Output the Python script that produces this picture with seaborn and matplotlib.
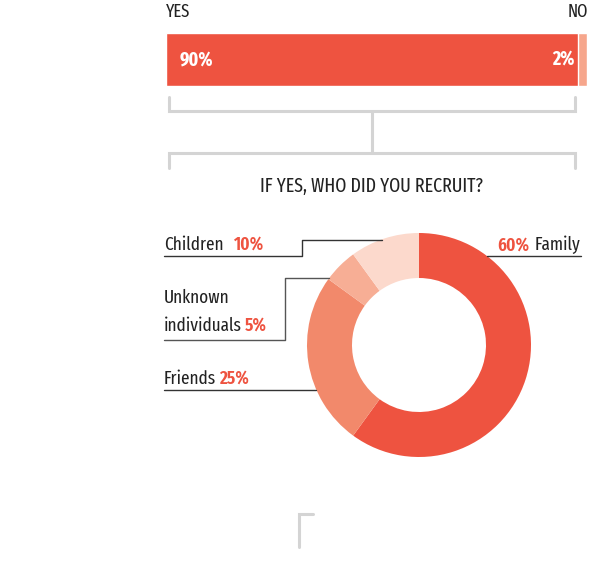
import numpy as np
import pandas as pd
import matplotlib
matplotlib.use('Agg')
import matplotlib.pyplot as plt
import seaborn as sns

# data
answers = ['YES', 'NO']
answer_pct = [90, 2]
groups = ['Family', 'Friends', 'Unknown individuals', 'Children']
group_pct = [60, 25, 5, 10]

red = '#EE5340'
no_color = '#F6A68C'
pie_colors = ['#EE5340', '#F2896B', '#F7AE95', '#FCD9CC']
ink = '#222222'
bracket = '#D4D4D4'

sns.set_theme(style='white')
plt.rcParams['font.family'] = ['Fira Sans Extra Condensed', 'Fira Sans Condensed', 'DejaVu Sans']

W, H = 589, 568
fig = plt.figure(figsize=(W / 100, H / 100), dpi=100)
fig.patch.set_facecolor('white')

# overlay in pixel coords for brackets, leader lines and labels
ov = fig.add_axes([0, 0, 1, 1])
ov.set_xlim(0, W)
ov.set_ylim(H, 0)
ov.axis('off')
ov.patch.set_alpha(0)
ov.set_zorder(10)


def px_axes(x0, y0, x1, y1):
    return fig.add_axes([x0 / W, 1 - y1 / H, (x1 - x0) / W, (y1 - y0) / H])


# stacked bar: yes / no
ax_bar = px_axes(166, 33, 589, 86)
bar_df = pd.DataFrame({'q': ['q'], 'total': [answer_pct[0] + answer_pct[1]], 'yes': [answer_pct[0]]})
sns.barplot(data=bar_df, x='total', y='q', color=no_color, saturation=1, width=1, ax=ax_bar)
sns.barplot(data=bar_df, x='yes', y='q', color=red, saturation=1, width=1, ax=ax_bar)
ax_bar.set_xlim(0, 92.4)
ax_bar.set_ylim(0.5, -0.5)
ax_bar.axis('off')

ov.text(166, 17, answers[0], ha='left', va='baseline', fontsize=13, color=ink)
ov.text(588, 17, answers[1], ha='right', va='baseline', fontsize=13, color=ink)
ov.text(180, 65, f'{answer_pct[0]}%', ha='left', va='baseline', fontsize=14,
        fontweight='bold', color='white')
ov.text(575, 65, f'{answer_pct[1]}%', ha='right', va='baseline', fontsize=14,
        fontweight='bold', color='white')

# brackets
lw_b = 2.2
ov.plot([169, 169, 575, 575], [97, 111, 111, 97], color=bracket, lw=lw_b, solid_joinstyle='miter')
ov.plot([372, 372], [111, 153], color=bracket, lw=lw_b)
ov.plot([169, 169, 575, 575], [168, 153, 153, 168], color=bracket, lw=lw_b, solid_joinstyle='miter')
ov.plot([313, 299, 299], [514, 514, 547], color=bracket, lw=lw_b, solid_joinstyle='miter')

ov.text(372, 192, 'IF YES, WHO DID YOU RECRUIT?', ha='center', va='baseline',
        fontsize=14, color=ink)

# donut
ax_pie = px_axes(307, 233, 531, 457)
ax_pie.pie(group_pct, colors=pie_colors, startangle=90, counterclock=False, radius=1,
           wedgeprops=dict(width=(112 - 67) / 112, linewidth=0))
ax_pie.set_xlim(-1, 1)
ax_pie.set_ylim(-1, 1)
ax_pie.set_aspect('equal')
ax_pie.axis('off')

# leader lines
lw_l = 1.0
ov.plot([164, 302, 302, 382], [256, 256, 240, 240], color='#333333', lw=lw_l)
ov.plot([164, 285, 285, 329], [340, 340, 278, 278], color='#555555', lw=lw_l)
ov.plot([164, 316], [390, 390], color='#333333', lw=lw_l)
ov.plot([487, 581], [256, 256], color='#333333', lw=lw_l)

fs = 13.5


def label_with_pct(x, y, name, pct, gap=5):
    t = ov.text(x, y, name, ha='left', va='baseline', fontsize=fs, color=ink)
    ov.annotate(f'{pct}%', xy=(1, 0), xycoords=t, xytext=(gap, 0), textcoords='offset pixels',
                ha='left', va='bottom', fontsize=fs, fontweight='semibold', color=red)


label_with_pct(164, 250, groups[3], group_pct[3], gap=10)
ov.text(164, 303, 'Unknown', ha='left', va='baseline', fontsize=fs, color=ink)
label_with_pct(164, 331, 'individuals', group_pct[2], gap=3)
label_with_pct(164, 384, groups[1], group_pct[1], gap=3)

tf = ov.text(581, 250, groups[0], ha='right', va='baseline', fontsize=fs, color=ink)
ov.annotate(f'{group_pct[0]}%', xy=(0, 0), xycoords=tf, xytext=(-6, 0), textcoords='offset pixels',
            ha='right', va='bottom', fontsize=fs, fontweight='semibold', color=red)

fig.savefig('out.png', dpi=100, facecolor='white')
